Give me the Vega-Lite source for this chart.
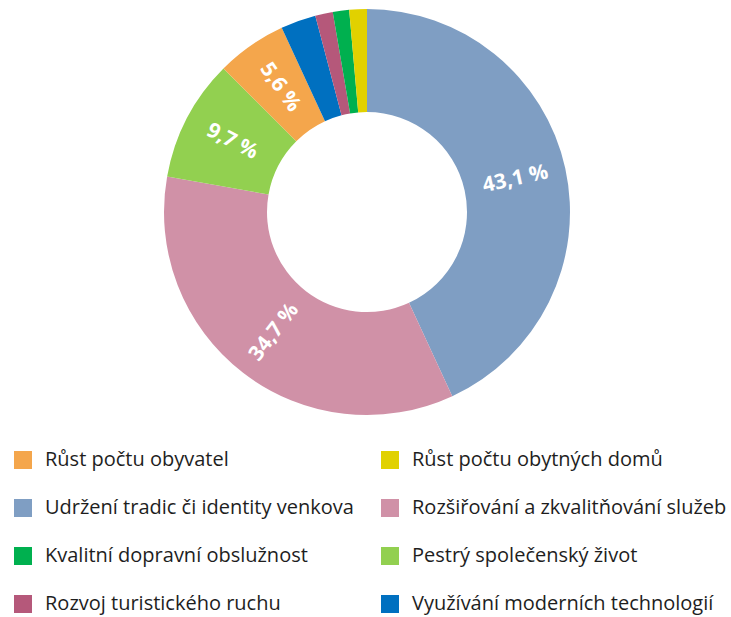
{
  "$schema": "https://vega.github.io/schema/vega-lite/v6.json",
  "autosize": "none",
  "width": 734,
  "height": 424,
  "padding": {"top": 0, "left": 0, "right": 0, "bottom": 193},
  "background": "white",
  "config": {"view": {"stroke": null}, "font": "Open Sans"},
  "data": {"values": [
    {"idx": 1, "cat": "Udržení tradic či identity venkova", "share": 43.1},
    {"idx": 2, "cat": "Rozšiřování a zkvalitňování služeb", "share": 34.7},
    {"idx": 3, "cat": "Pestrý společenský život", "share": 9.7},
    {"idx": 4, "cat": "Růst počtu obyvatel", "share": 5.6},
    {"idx": 5, "cat": "Využívání moderních technologií", "share": 2.8},
    {"idx": 6, "cat": "Rozvoj turistického ruchu", "share": 1.4},
    {"idx": 7, "cat": "Kvalitní dopravní obslužnost", "share": 1.3},
    {"idx": 8, "cat": "Růst počtu obytných domů", "share": 1.4}
  ]},
  "transform": [
    {"window": [{"op": "sum", "field": "share", "as": "cum"}], "sort": [{"field": "idx"}], "frame": [null, 0]},
    {"calculate": "datum.cum - datum.share / 2", "as": "mid"},
    {"calculate": "datum.mid / 100 * 360 - 90", "as": "rawAngle"},
    {"calculate": "datum.rawAngle > 90 ? datum.rawAngle - 180 : datum.rawAngle", "as": "labelAngle"},
    {"calculate": "replace(format(datum.share, '.1f'), '.', ',') + ' %'", "as": "label"}
  ],
  "layer": [
    {
      "mark": {"type": "arc", "outerRadius": 203, "innerRadius": 100},
      "encoding": {
        "theta": {"field": "share", "type": "quantitative", "stack": true, "scale": {"domain": [0, 100]}},
        "order": {"field": "idx", "type": "quantitative"},
        "color": {
          "field": "cat", "type": "nominal",
          "scale": {
            "domain": ["Růst počtu obyvatel", "Růst počtu obytných domů", "Udržení tradic či identity venkova", "Rozšiřování a zkvalitňování služeb", "Kvalitní dopravní obslužnost", "Pestrý společenský život", "Rozvoj turistického ruchu", "Využívání moderních technologií"],
            "range": ["#f4a64c", "#e1d100", "#7f9ec3", "#d091a7", "#00b04f", "#92d050", "#b5587a", "#0070c0"]
          },
          "legend": {
            "title": null,
            "orient": "none",
            "legendX": 13,
            "legendY": 450,
            "direction": "horizontal",
            "columns": 2,
            "gridAlign": "each",
            "columnPadding": 26,
            "rowPadding": 28,
            "padding": 0,
            "symbolType": "square",
            "symbolSize": 324,
            "symbolStrokeWidth": 0,
            "symbolOpacity": 1,
            "labelFont": "Open Sans",
            "labelFontSize": 20,
            "labelColor": "#1e1e1e",
            "labelOffset": 12,
            "labelLimit": 400
          }
        }
      }
    },
    {
      "transform": [{"filter": "datum.share > 5"}],
      "mark": {"type": "text", "radius": 152, "color": "white", "font": "Open Sans", "fontWeight": "bold", "fontSize": 21, "align": "center", "baseline": "middle"},
      "encoding": {
        "theta": {"field": "mid", "type": "quantitative", "stack": null},
        "angle": {"field": "labelAngle", "type": "quantitative", "scale": null},
        "text": {"field": "label", "type": "nominal"}
      }
    }
  ]
}
